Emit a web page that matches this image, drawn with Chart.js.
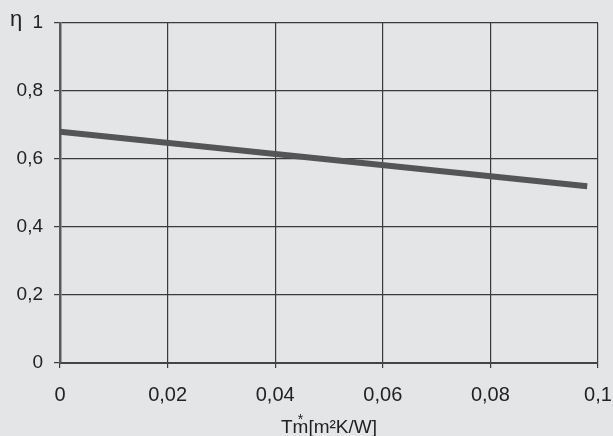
<!DOCTYPE html>
<html>
<head>
<meta charset="utf-8">
<script src="https://cdn.jsdelivr.net/npm/chart.js@4/dist/chart.umd.min.js"></script>
<style>
  html, body { margin: 0; padding: 0; background: #e4e5e6; }
  #wrap { width: 613px; height: 436px; }
</style>
</head>
<body>
<div id="wrap"><canvas id="myChart" width="613" height="436"></canvas></div>
<script>
// values
const tmValues = [0, 0.098];
const etaValues = [0.68, 0.52];
const xTicks = [0, 0.02, 0.04, 0.06, 0.08, 0.1];
const yTicks = [0, 0.2, 0.4, 0.6, 0.8, 1];

const bg = '#e4e5e6';
const font = 'Liberation Sans, Arial, sans-serif';
const commaFmt = v => String(Math.round(v * 100) / 100).replace('.', ',');

const bgPlugin = {
  id: 'bg',
  beforeDraw(chart) {
    const c = chart.ctx;
    c.save();
    c.fillStyle = bg;
    c.fillRect(0, 0, chart.width, chart.height);
    c.restore();
  }
};

// axis titles: eta at top left, T*m under the x axis
const titlePlugin = {
  id: 'titles',
  afterDraw(chart) {
    const c = chart.ctx;
    const area = chart.chartArea;
    c.save();
    c.fillStyle = '#222';
    c.textBaseline = 'middle';
    c.font = '22px ' + font;
    c.textAlign = 'left';
    c.fillText('η', 10, 20);

    c.font = '19px ' + font;
    const parts = ['T', 'm', '[m²K/W]'];
    const w = parts.map(p => c.measureText(p).width);
    const total = w[0] + w[1] + w[2];
    let x = (area.left + area.right) / 2 - total / 2;
    const y = 428;
    c.fillText(parts[0], x, y);
    x += w[0];
    c.fillText(parts[1], x, y);
    c.font = '14px ' + font;
    c.textAlign = 'center';
    c.fillText('*', x + w[1] / 2, y - 8);
    c.font = '19px ' + font;
    c.textAlign = 'left';
    x += w[1];
    c.fillText(parts[2], x, y);
    c.restore();
  }
};

const ctx = document.getElementById('myChart').getContext('2d');
new Chart(ctx, {
  type: 'line',
  data: {
    datasets: [{
      data: tmValues.map((t, i) => ({ x: t, y: etaValues[i] })),
      borderColor: '#555555',
      borderWidth: 6,
      pointRadius: 0,
      fill: false,
      tension: 0
    }]
  },
  options: {
    responsive: false,
    animation: false,
    layout: { padding: { top: 23, right: 0, left: 0, bottom: 0 } },
    plugins: {
      legend: { display: false },
      tooltip: { enabled: false }
    },
    scales: {
      x: {
        type: 'linear',
        min: 0,
        max: 0.1,
        afterFit: s => { s.height = 73; s.paddingRight = 15; },
        afterBuildTicks: s => { s.ticks = xTicks.map(v => ({ value: v })); },
        ticks: {
          color: '#222',
          font: { family: font, size: 20 },
          padding: 15,
          maxRotation: 0,
          callback: commaFmt
        },
        grid: { color: '#3a3a3a', lineWidth: 1.2, tickLength: 5 },
        border: { color: '#444', width: 2 }
      },
      y: {
        min: 0,
        max: 1,
        afterFit: s => { s.width = 60; },
        afterBuildTicks: s => { s.ticks = yTicks.map(v => ({ value: v })); },
        ticks: {
          color: '#222',
          font: { family: font, size: 19 },
          padding: 11,
          callback: commaFmt
        },
        grid: { color: '#3a3a3a', lineWidth: 1.2, tickLength: 6 },
        border: { color: '#5a5a5a', width: 2.5 }
      }
    }
  },
  plugins: [bgPlugin, titlePlugin]
});
</script>
</body>
</html>
